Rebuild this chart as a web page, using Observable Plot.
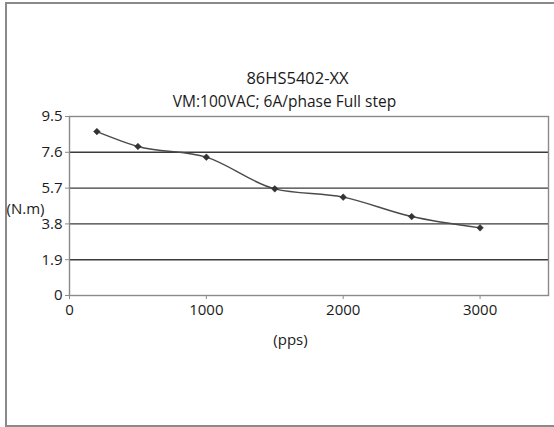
<!DOCTYPE html>
<html><head><meta charset="utf-8">
<script src="https://cdn.jsdelivr.net/npm/d3@7"></script>
<script src="https://cdn.jsdelivr.net/npm/@observablehq/plot@0.6"></script>
<style>
html,body{margin:0;padding:0;background:#fff;overflow:hidden;width:554px;height:427px;}
#frame{position:absolute;left:5px;top:2px;width:600px;height:421px;border:2px solid #8a8a8a;box-sizing:content-box;}
#chart{position:absolute;left:0;top:0;}
</style></head>
<body>
<div id="frame"></div>
<div id="chart"></div>
<script>
const speed = [200, 500, 1000, 1500, 2000, 2500, 3000];
const torque = [8.70, 7.91, 7.34, 5.66, 5.22, 4.19, 3.59];
const yTicks = [0, 1.9, 3.8, 5.7, 7.6, 9.5];
const xTicks = [0, 1000, 2000, 3000];
const titles = ["86HS5402-XX", "VM:100VAC; 6A/phase Full step"];
const yLabel = "(N.m)";
const xLabel = "(pps)";

const data = speed.map((s, i) => ({speed: s, torque: torque[i]}));
const font = "'Open Sans', sans-serif";

const chart = Plot.plot({
  width: 554, height: 427,
  marginLeft: 69, marginRight: 6, marginTop: 116, marginBottom: 132,
  style: {fontFamily: font, fontSize: "15px", color: "#1a1a1a", background: "transparent", overflow: "visible"},
  x: {domain: [0, 3500], label: null},
  y: {domain: [0, 9.5], label: null},
  marks: [
    Plot.ruleY(yTicks.slice(1, -1), {stroke: "#3a3a3a", strokeWidth: 1.4}),
    Plot.frame({stroke: "#8a8a8a", strokeWidth: 1.4}),
    Plot.axisX({ticks: xTicks, tickSize: 4, tickPadding: 5, stroke: "#8a8a8a", fontSize: 15, fill: "#1a1a1a", tickFormat: d => String(d), label: null}),
    Plot.axisY({ticks: yTicks, tickSize: 4, tickPadding: 3, stroke: "#8a8a8a", fontSize: 15, fill: "#1a1a1a", tickFormat: d => d === 0 ? "0" : d.toFixed(1), label: null}),
    Plot.line(data, {x: "speed", y: "torque", curve: "monotone-x", stroke: "#4a4a4a", strokeWidth: 1.4}),
    Plot.dot(data, {x: "speed", y: "torque", symbol: "diamond2", fill: "#333", stroke: "#333", strokeWidth: 0.5, r: 3}),
    Plot.text([titles[0]], {frameAnchor: "top", dx: -11.5, dy: -44, text: d => d, fontSize: 16.5, fill: "#1a1a1a"}),
    Plot.text([titles[1]], {frameAnchor: "top", dx: -24.5, dy: -21, text: d => d, fontSize: 15.5, fill: "#1a1a1a"}),
    Plot.text([yLabel], {frameAnchor: "left", dx: -63, dy: 3, textAnchor: "start", text: d => d, fontSize: 15, fill: "#1a1a1a"}),
    Plot.text([xLabel], {frameAnchor: "bottom", dx: -18.5, dy: 49, text: d => d, fontSize: 15, fill: "#1a1a1a"})
  ]
});
document.getElementById("chart").appendChild(chart);
</script>
</body></html>
